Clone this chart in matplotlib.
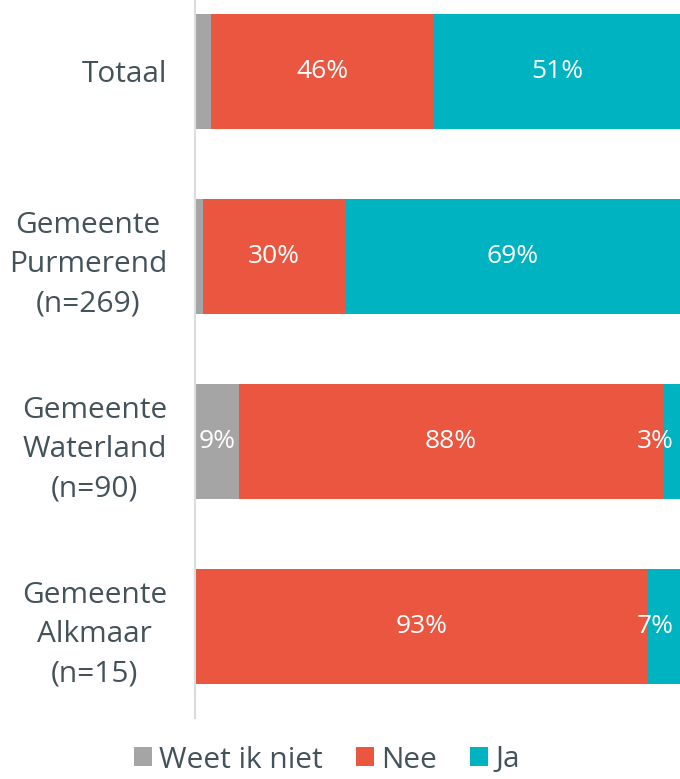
import matplotlib
matplotlib.use("Agg")
import matplotlib.pyplot as plt
from matplotlib.patches import Patch

categories = ["Totaal", "Gemeente\nPurmerend\n(n=269)", "Gemeente\nWaterland\n(n=90)", "Gemeente\nAlkmaar\n(n=15)"]
weet = [3.3, 1.6, 9.0, 0.0]
nee = [46.0, 29.5, 87.5, 93.4]
ja = [50.7, 68.9, 3.5, 6.6]
weet_lbl = ["", "", "9%", ""]
nee_lbl = ["46%", "30%", "88%", "93%"]
ja_lbl = ["51%", "69%", "3%", "7%"]
series_names = ["Weet ik niet", "Nee", "Ja"]
colors = ["#A5A5A5", "#EA563F", "#00B3C1"]
txt_color = "#44525A"

plt.rcParams['font.family'] = ['Open Sans', 'DejaVu Sans']

fig = plt.figure(figsize=(6.8, 7.79), dpi=100)
ax = fig.add_axes([195/680, 1 - 718/779, 485/680, 718/779])

ypos = list(range(len(categories)))
h = 0.62
left = [0.0] * len(categories)
for vals, lbls, col in zip([weet, nee, ja], [weet_lbl, nee_lbl, ja_lbl], colors):
    ax.barh(ypos, vals, left=left, height=h, color=col, edgecolor="none")
    for i, (v, l) in enumerate(zip(vals, lbls)):
        if l:
            cx = left[i] + v / 2
            cx = min(cx, 100 - 5.2)
            ax.text(cx, ypos[i], l, ha="center", va="center", color="white", fontsize=19)
    left = [a + b for a, b in zip(left, vals)]

ax.set_xlim(0, 100)
ax.set_ylim(3.495, -0.386)
ax.set_yticks(ypos)
ax.set_yticklabels(categories, fontsize=21.5, color=txt_color, linespacing=1.45,
                   multialignment="center")
ax.tick_params(axis="y", length=0, pad=20)
ax.set_xticks([])
for s in ["top", "right", "bottom"]:
    ax.spines[s].set_visible(False)
ax.spines["left"].set_color("#D9DDE0")
ax.spines["left"].set_linewidth(1.5)

handles = [Patch(facecolor=c, edgecolor="none") for c in colors]
fig.legend(handles, series_names, loc="center", bbox_to_anchor=(327/680, 1 - 760/779),
           ncol=3, frameon=False, fontsize=21.5, labelcolor=txt_color,
           handlelength=0.6, handleheight=0.6, handletextpad=0.25, columnspacing=1.1,
           borderpad=0.1)

fig.savefig("out.png", dpi=100)
